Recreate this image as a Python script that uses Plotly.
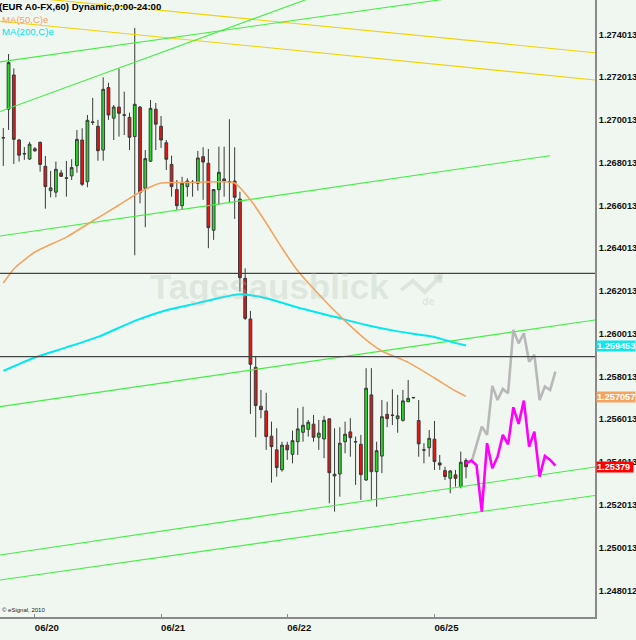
import plotly.graph_objects as go

# ---------------- data ----------------
candle_idx = list(range(1, 90))
opens = [1.26918, 1.27051, 1.27211, 1.26907, 1.26844, 1.26818, 1.26866, 1.26896, 1.26784, 1.26670,
         1.26663, 1.26753, 1.26730, 1.26739, 1.26787, 1.26907, 1.26712, 1.26989, 1.26971, 1.26860,
         1.27152, 1.27009, 1.27061, 1.27025, 1.27013, 1.26923, 1.27061, 1.26681, 1.26808, 1.27051,
         1.26971, 1.26894, 1.26793, 1.26675, 1.26600, 1.26689, 1.26710, 1.26705, 1.26829, 1.26798,
         1.26485, 1.26675, 1.26725, 1.26713, 1.26715, 1.26631, 1.26260, 1.26070, 1.25844, 1.25662,
         1.25640, 1.25522, 1.25458, 1.25365, 1.25480, 1.25437, 1.25496, 1.25540, 1.25554, 1.25578,
         1.25517, 1.25509, 1.25603, 1.25336, 1.25345, 1.25496, 1.25542, 1.25497, 1.25484, 1.25317,
         1.25715, 1.25356, 1.25429, 1.25624, 1.25621, 1.25604, 1.25596, 1.25683, 1.25701, 1.25595,
         1.25458, 1.25468, 1.25508, 1.25397, 1.25361, 1.25325, 1.25341, 1.25286, 1.25408]
highs = [1.26963, 1.27309, 1.27242, 1.26912, 1.26874, 1.26898, 1.26874, 1.26900, 1.26832, 1.26762,
         1.26806, 1.26767, 1.26809, 1.26817, 1.26954, 1.26962, 1.27024, 1.27104, 1.27001, 1.27200,
         1.27175, 1.27071, 1.27241, 1.27133, 1.27035, 1.27431, 1.27066, 1.26860, 1.27094, 1.27080,
         1.27019, 1.26907, 1.26834, 1.26720, 1.26735, 1.26728, 1.26720, 1.26856, 1.26873, 1.26865,
         1.26678, 1.26876, 1.26876, 1.27004, 1.26873, 1.26665, 1.26307, 1.26108, 1.25894, 1.25738,
         1.25725, 1.25590, 1.25559, 1.25496, 1.25496, 1.25548, 1.25653, 1.25660, 1.25598, 1.25621,
         1.25598, 1.25617, 1.25605, 1.25559, 1.25564, 1.25590, 1.25606, 1.25520, 1.25528, 1.25840,
         1.25840, 1.25496, 1.25691, 1.25683, 1.25741, 1.25715, 1.25738, 1.25785, 1.25705, 1.25691,
         1.25489, 1.25551, 1.25593, 1.25434, 1.25379, 1.25364, 1.25364, 1.25450, 1.25419]
lows = [1.26786, 1.26954, 1.26795, 1.26806, 1.26814, 1.26814, 1.26851, 1.26759, 1.26586, 1.26639,
        1.26639, 1.26734, 1.26642, 1.26720, 1.26754, 1.26692, 1.26686, 1.26977, 1.26810, 1.26810,
        1.27001, 1.26907, 1.26923, 1.26930, 1.26860, 1.26368, 1.26611, 1.26499, 1.26804, 1.26860,
        1.26870, 1.26767, 1.26642, 1.26580, 1.26580, 1.26642, 1.26642, 1.26670, 1.26627, 1.26401,
        1.26440, 1.26603, 1.26642, 1.26611, 1.26538, 1.26198, 1.26065, 1.25626, 1.25517, 1.25606,
        1.25458, 1.25305, 1.25333, 1.25356, 1.25411, 1.25395, 1.25434, 1.25496, 1.25520, 1.25496,
        1.25458, 1.25419, 1.25208, 1.25169, 1.25239, 1.25442, 1.25426, 1.25294, 1.25224, 1.25313,
        1.25224, 1.25192, 1.25349, 1.25564, 1.25574, 1.25538, 1.25590, 1.25682, 1.25698, 1.25426,
        1.25395, 1.25426, 1.25364, 1.25364, 1.25317, 1.25255, 1.25286, 1.25278, 1.25325]
closes = [1.26917, 1.27269, 1.26910, 1.26836, 1.26842, 1.26887, 1.26857, 1.26793, 1.26689, 1.26683,
          1.26770, 1.26737, 1.26728, 1.26778, 1.26910, 1.26700, 1.26999, 1.26991, 1.26857, 1.27144,
          1.27024, 1.27061, 1.27032, 1.27023, 1.26920, 1.27074, 1.26661, 1.26820, 1.27055, 1.26981,
          1.26907, 1.26817, 1.26689, 1.26600, 1.26705, 1.26715, 1.26708, 1.26823, 1.26804, 1.26497,
          1.26675, 1.26756, 1.26715, 1.26711, 1.26639, 1.26263, 1.26073, 1.25858, 1.25665, 1.25646,
          1.25520, 1.25473, 1.25375, 1.25480, 1.25458, 1.25501, 1.25556, 1.25573, 1.25587, 1.25517,
          1.25536, 1.25596, 1.25351, 1.25344, 1.25489, 1.25531, 1.25515, 1.25495, 1.25342, 1.25746,
          1.25356, 1.25454, 1.25613, 1.25604, 1.25619, 1.25617, 1.25687, 1.25699, 1.25703, 1.25486,
          1.25457, 1.25512, 1.25403, 1.25387, 1.25333, 1.25359, 1.25325, 1.25400, 1.25379]

ma50_idx = [1, 3, 5, 7, 13, 18, 23, 27, 31, 36, 42, 45, 48, 51, 54, 57, 62, 66, 70, 73, 78, 83, 87, 89]
ma50_val = [1.26238, 1.26304, 1.26346, 1.26383, 1.26453, 1.26528, 1.26603, 1.26664, 1.26706, 1.26708,
            1.26712, 1.26706, 1.26627, 1.26519, 1.26402, 1.26295, 1.26159, 1.26061, 1.25972, 1.25920,
            1.25867, 1.25794, 1.25733, 1.25708]

ma200_idx = [1, 7, 13, 19, 26, 32, 38, 42, 46, 51, 57, 64, 70, 76, 83, 86, 89]
ma200_val = [1.25827, 1.25890, 1.25937, 1.25986, 1.26061, 1.26111, 1.26144, 1.26168, 1.26186, 1.26167,
             1.26124, 1.26080, 1.26042, 1.26012, 1.25986, 1.25964, 1.25946]

proj_m_idx = list(range(89, 107))
proj_m_val = [1.25395, 1.25408, 1.25387, 1.25169, 1.25489, 1.25372, 1.25426, 1.25528, 1.25484, 1.25657,
              1.25579, 1.25688, 1.25473, 1.25543, 1.25333, 1.25429, 1.25411, 1.25384]
proj_g_idx = [90, 92, 93, 94, 95, 96, 97, 98, 99, 100, 101, 102, 103, 104, 105, 106]
proj_g_val = [1.25397, 1.25567, 1.25528, 1.25757, 1.25691, 1.25743, 1.25723, 1.26019, 1.25956, 1.26003,
              1.25870, 1.25902, 1.25691, 1.25754, 1.25738, 1.25824]

# trend lines: start/end index and price
trend_x0 = [0.372, 0.372, 0.372, 0.372, 0.372, 0.372, 0.372, 0.372]
trend_p0 = [1.275865, 1.274626, 1.272723, 1.270399, 1.264582, 1.256600, 1.249665, 1.248496]
trend_x1 = [113.53, 113.53, 87.86, 61.23, 104.97, 113.53, 113.53, 113.53]
trend_p1 = [1.273153, 1.271876, 1.275757, 1.275874, 1.268336, 1.260654, 1.253780, 1.252447]
trend_kind = ["y", "y", "g", "g", "g", "g", "g", "g"]

level_prices = [1.262836, 1.258936]

ytick_vals = [1.248012, 1.250013, 1.252013, 1.254013, 1.256013, 1.258013, 1.260013,
              1.262013, 1.264013, 1.266013, 1.268013, 1.270013, 1.272013, 1.274013]
ytick_text = ["1.248012", "1.250013", "1.252013", "1.254013", "1.256013", "1.258013", "1.260013",
              "1.262013", "1.264013", "1.266013", "1.268013", "1.270013", "1.272013", "1.274013"]
xtick_vals = [7, 31, 55, 83]
xtick_text = ["06/20", "06/21", "06/22", "06/25"]

last_ma200 = 1.259453
last_ma50 = 1.257057
last_price = 1.25379

# ---------------- styles ----------------
BG = "#f0f7f0"
SANS = "Liberation Sans, Arial, sans-serif"
C_GREEN_LINE = "#44ee44"
C_YELLOW = "#f2d200"
C_ORANGE = "#f4a460"
C_CYAN = "#00e8f0"
LBL = 9.2

fig = go.Figure()

for x0, p0, x1, p1, k in zip(trend_x0, trend_p0, trend_x1, trend_p1, trend_kind):
    fig.add_trace(go.Scatter(x=[x0, x1], y=[p0, p1], mode="lines",
                             line=dict(color=C_YELLOW if k == "y" else C_GREEN_LINE, width=1.1),
                             hoverinfo="skip", showlegend=False))

fig.add_trace(go.Scatter(x=ma200_idx, y=ma200_val, mode="lines", line=dict(color=C_CYAN, width=2, shape="spline", smoothing=0.6),
                         hoverinfo="skip", showlegend=False))
fig.add_trace(go.Scatter(x=ma50_idx, y=ma50_val, mode="lines", line=dict(color=C_ORANGE, width=1.6, shape="spline", smoothing=0.6),
                         hoverinfo="skip", showlegend=False))

fig.add_trace(go.Candlestick(x=candle_idx, open=opens, high=highs, low=lows, close=closes,
                             increasing=dict(fillcolor="#22dd22", line=dict(color="#3a3a3a", width=1)),
                             decreasing=dict(fillcolor="#ee1111", line=dict(color="#3a3a3a", width=1)),
                             whiskerwidth=0, showlegend=False, hoverinfo="skip"))

fig.add_trace(go.Scatter(x=proj_g_idx, y=proj_g_val, mode="lines", line=dict(color="#b8b8b8", width=2.6),
                         hoverinfo="skip", showlegend=False))
fig.add_trace(go.Scatter(x=proj_m_idx, y=proj_m_val, mode="lines", line=dict(color="#ff00ff", width=2.6),
                         hoverinfo="skip", showlegend=False))

shapes = []
for lp in level_prices:
    shapes.append(dict(type="line", xref="paper", x0=0, x1=1, yref="y", y0=lp, y1=lp,
                       line=dict(color="#444444", width=1.2), layer="above"))
# watermark zig-zag arrow
WM = "rgba(176,192,176,0.30)"
shapes.append(dict(type="path", xref="paper", yref="paper",
                   path="M 0.674 0.530 L 0.694 0.5446 L 0.714 0.5267 L 0.741 0.5527",
                   line=dict(color=WM, width=4), layer="above"))
shapes.append(dict(type="path", xref="paper", yref="paper",
                   path="M 0.7294 0.5511 L 0.741 0.5527 L 0.7395 0.5413",
                   line=dict(color=WM, width=4), layer="above"))

annotations = [
    dict(text="Tagesausblick", xref="paper", yref="paper", x=0.4524, y=0.535, xanchor="center", yanchor="middle",
         showarrow=False, font=dict(family=SANS, size=35, color=WM, weight="bold")),
    dict(text="de", xref="paper", yref="paper", x=0.706, y=0.512, xanchor="left", yanchor="middle",
         showarrow=False, font=dict(family=SANS, size=11, color=WM, weight="bold")),
    dict(text="(EUR A0-FX,60) Dynamic,0:00-24:00", xref="paper", yref="paper", x=0, y=1, xshift=-3, yshift=1,
         xanchor="left", yanchor="top", showarrow=False,
         font=dict(family=SANS, size=9.6, color="#000000", weight="bold")),
    dict(text="MA(50,C)e", xref="paper", yref="paper", x=0, y=1, yshift=-12, xanchor="left", yanchor="top",
         showarrow=False, font=dict(family=SANS, size=9.6, color=C_ORANGE)),
    dict(text="MA(200,C)e", xref="paper", yref="paper", x=0, y=1, yshift=-24, xanchor="left", yanchor="top",
         showarrow=False, font=dict(family=SANS, size=9.6, color="#00e0ea")),
    dict(text="© eSignal, 2010", xref="paper", yref="paper", x=0, y=0, yshift=2, xanchor="left", yanchor="bottom",
         showarrow=False, font=dict(family=SANS, size=6, color="#222222")),
    dict(text="1.259453", xref="paper", x=1, xshift=1, xanchor="left", yref="y", y=last_ma200, yanchor="middle",
         showarrow=False, bgcolor="#11e6ee", borderpad=0, font=dict(family=SANS, size=LBL, color="#ffffff", weight="bold")),
    dict(text="1.257057", xref="paper", x=1, xshift=1, xanchor="left", yref="y", y=last_ma50, yanchor="middle",
         showarrow=False, bgcolor=C_ORANGE, borderpad=0, font=dict(family=SANS, size=LBL, color="#ffffff", weight="bold")),
    dict(text="1.25379 ", xref="paper", x=1, xshift=1, xanchor="left", yref="y", y=last_price, yanchor="middle",
         showarrow=False, bgcolor="#ff0000", borderpad=0, font=dict(family=SANS, size=LBL, color="#ffffff", weight="bold")),
]

fig.update_layout(
    width=636, height=640, autosize=False,
    margin=dict(l=0, r=41, t=0, b=23, pad=0, autoexpand=False),
    paper_bgcolor=BG, plot_bgcolor=BG,
    showlegend=False, boxgap=0.25,
    shapes=shapes, annotations=annotations,
    xaxis=dict(range=[0.372, 113.53], showgrid=False, zeroline=False, showline=True,
               linecolor="#8a8a8a", linewidth=2, tickvals=xtick_vals, ticktext=xtick_text,
               ticks="inside", ticklen=3, tickcolor="#8a8a8a", ticklabelshift=12,
               tickfont=dict(family=SANS, size=9.6, color="#111111", weight="bold"),
               rangeslider=dict(visible=False), fixedrange=True),
    yaxis=dict(range=[1.246763, 1.275617], side="right", showgrid=False, zeroline=False, showline=True,
               linecolor="#8a8a8a", linewidth=2, tickvals=ytick_vals, ticktext=ytick_text, ticks="",
               ticklabelstandoff=0,
               tickfont=dict(family=SANS, size=LBL, color="#111111", weight="bold"), fixedrange=True),
)

fig.write_html("out.html", config={"displayModeBar": False},
               post_script="document.body.style.margin='0';document.body.style.overflow='hidden';document.body.style.background='" + BG + "';")
